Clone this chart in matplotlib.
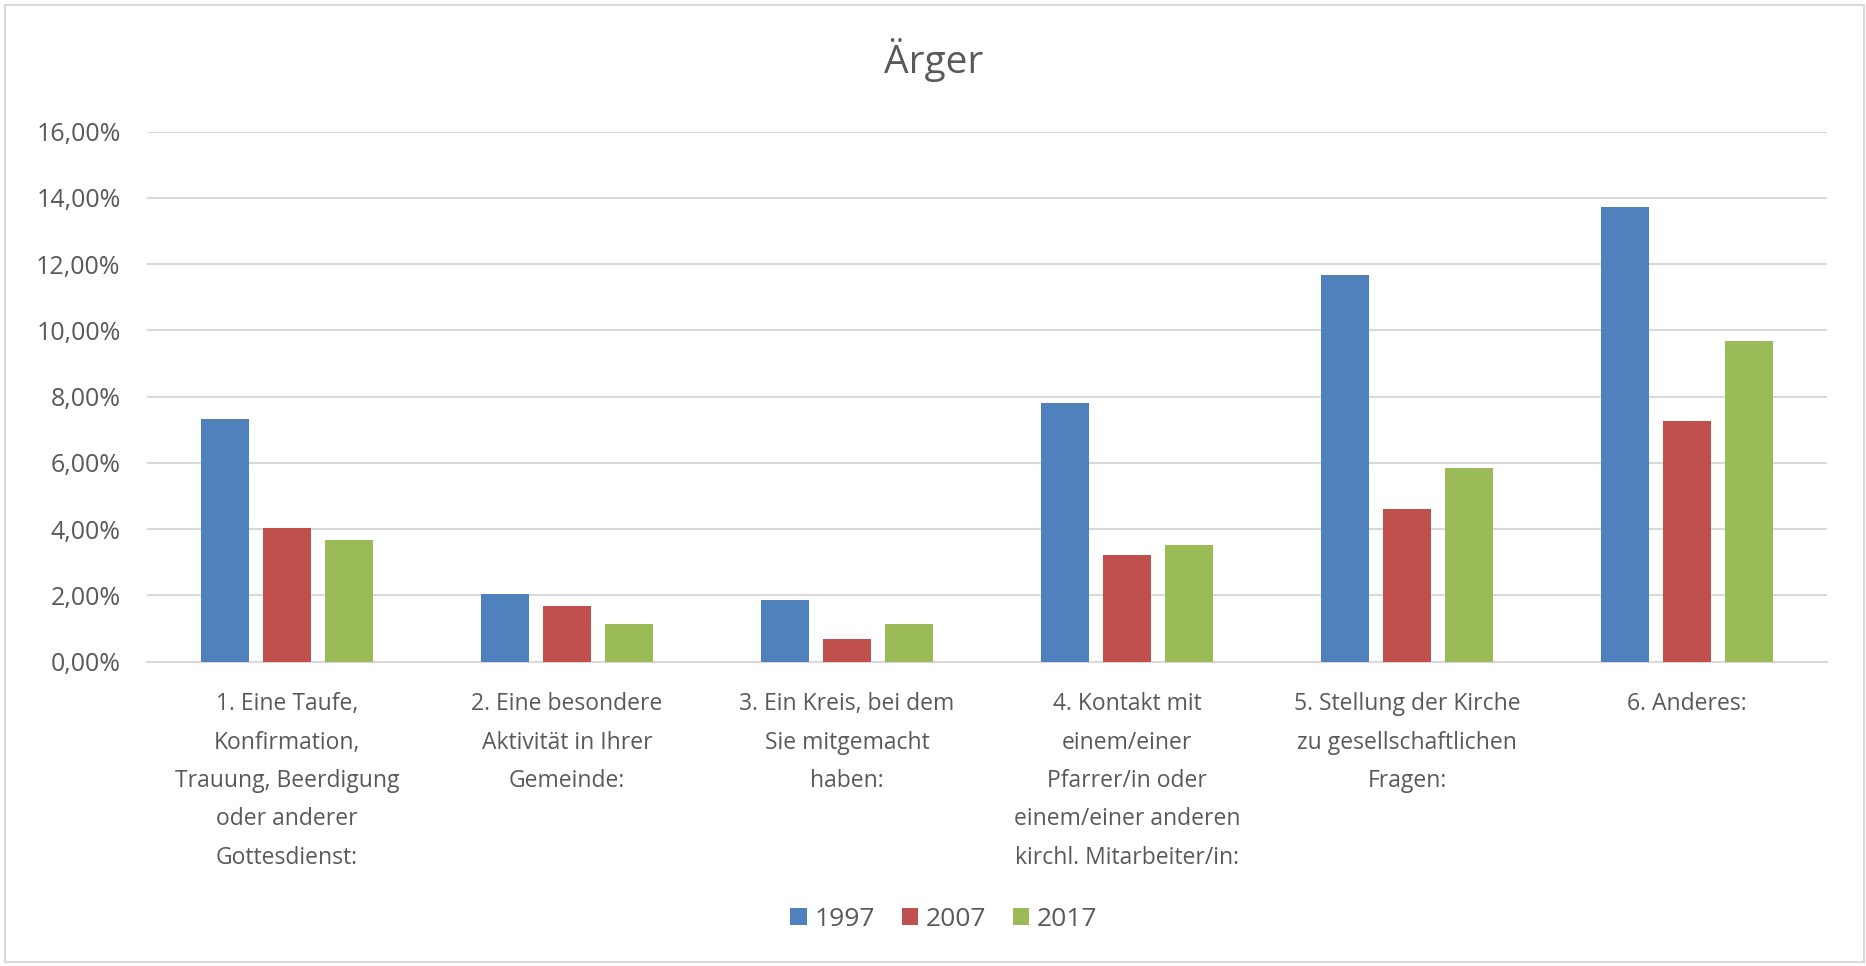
import matplotlib
matplotlib.use("Agg")
import matplotlib.pyplot as plt
from matplotlib.patches import Rectangle, Patch
from matplotlib.ticker import FuncFormatter, MultipleLocator
import numpy as np

plt.rcParams['font.family'] = ['Open Sans', 'DejaVu Sans']

categories = [
    "1. Eine Taufe,\nKonfirmation,\nTrauung, Beerdigung\noder anderer\nGottesdienst:",
    "2. Eine besondere\nAktivität in Ihrer\nGemeinde:",
    "3. Ein Kreis, bei dem\nSie mitgemacht\nhaben:",
    "4. Kontakt mit\neinem/einer\nPfarrer/in oder\neinem/einer anderen\nkirchl. Mitarbeiter/in:",
    "5. Stellung der Kirche\nzu gesellschaftlichen\nFragen:",
    "6. Anderes:",
]
years = ["1997", "2007", "2017"]
values_1997 = [7.32, 2.05, 1.86, 7.82, 11.66, 13.71]
values_2007 = [4.03, 1.68, 0.68, 3.23, 4.60, 7.26]
values_2017 = [3.66, 1.13, 1.13, 3.53, 5.84, 9.68]
colors = ["#4F81BD", "#C0504D", "#9BBB59"]

TEXT = "#595959"
GRID = "#D9D9D9"

W, H = 1866, 966
fig = plt.figure(figsize=(W / 100, H / 100), dpi=100)
fig.patch.set_facecolor("white")

# outer chart frame
fig.add_artist(Rectangle((5 / W, 4 / H), (1864 - 5) / W, (961 - 4) / H,
                         transform=fig.transFigure, fill=False,
                         edgecolor=GRID, linewidth=1.5))

left, right = 147 / W, 1827 / W
bottom, top = 1 - 661.7 / H, 1 - 131.5 / H
ax = fig.add_axes([left, bottom, right - left, top - bottom])

x = np.arange(len(categories))
bw = 0.17
step = 0.221
series = [values_1997, values_2007, values_2017]
for i, (vals, col) in enumerate(zip(series, colors)):
    ax.bar(x + (i - 1) * step, vals, width=bw, color=col, zorder=3)

ax.set_xlim(-0.5, len(categories) - 0.5)
ax.set_ylim(0, 16)
ax.yaxis.set_major_locator(MultipleLocator(2))
ax.yaxis.set_major_formatter(FuncFormatter(lambda v, p: f"{v:.2f}".replace(".", ",") + "%"))
ax.grid(axis="y", color=GRID, linewidth=1.5, zorder=0)
ax.set_axisbelow(True)

for s in ["top", "right", "left"]:
    ax.spines[s].set_visible(False)
ax.spines["bottom"].set_color(GRID)
ax.spines["bottom"].set_linewidth(1.5)

ax.set_xticks(x)
ax.set_xticklabels(categories, fontsize=16.5, color=TEXT, linespacing=1.8)
ax.tick_params(axis="x", length=0, pad=22)
ax.tick_params(axis="y", length=0, pad=19, labelsize=18, labelcolor=TEXT)

fig.text(934 / W, 1 - 60 / H, "Ärger", fontsize=28, color=TEXT,
         ha="center", va="center")

handles = [Patch(facecolor=c, edgecolor="none") for c in colors]
fig.legend(handles, years, loc="center", bbox_to_anchor=(944 / W, 1 - 919 / H),
           ncol=3, frameon=False, fontsize=19, labelcolor=TEXT,
           handlelength=0.62, handleheight=0.62, handletextpad=0.3,
           columnspacing=1.0)

fig.savefig("out.png", dpi=100, facecolor="white")
